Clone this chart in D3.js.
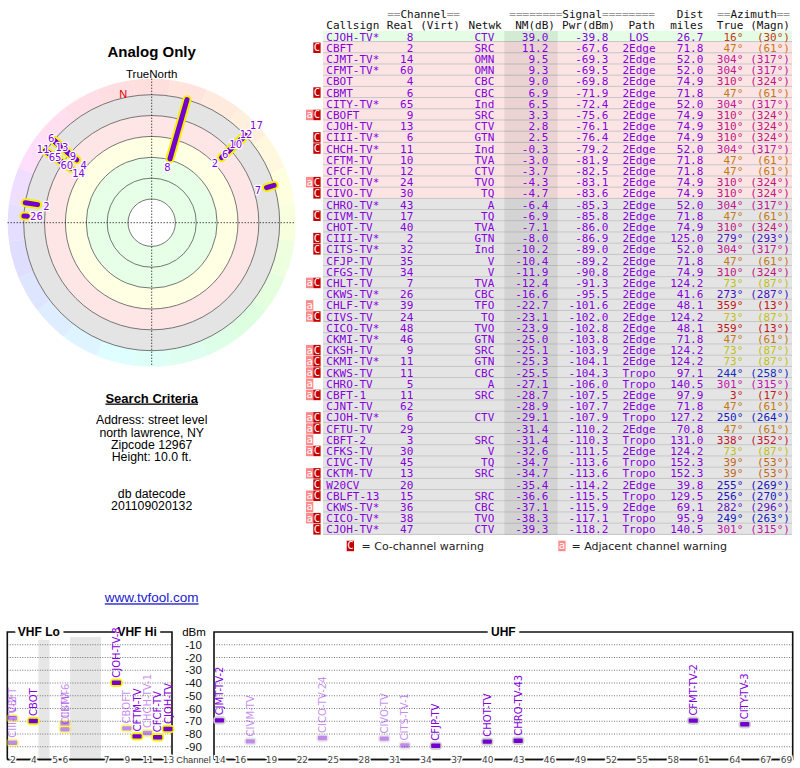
<!DOCTYPE html>
<html>
<head>
<meta charset="utf-8">
<script src="https://cdn.jsdelivr.net/npm/d3@7"></script>
<style>
body{margin:0;background:#fff}
svg{display:block}
</style>
</head>
<body>
<svg id="chart" width="800" height="768"></svg>
<script>
'use strict';

// ---- station table
var callsigns = ['CJOH-TV*','CBFT','CJMT-TV*','CFMT-TV*','CBOT','CBMT','CITY-TV*','CBOFT','CJOH-TV','CIII-TV*',
	'CHCH-TV*','CFTM-TV','CFCF-TV','CICO-TV*','CIVO-TV','CHRO-TV*','CIVM-TV','CHOT-TV','CIII-TV*','CITS-TV*',
	'CFJP-TV','CFGS-TV','CHLT-TV','CKWS-TV*','CHLF-TV*','CIVS-TV','CICO-TV*','CKMI-TV*','CKSH-TV','CKMI-TV*',
	'CKWS-TV','CHRO-TV','CBFT-1','CJNT-TV','CJOH-TV*','CFTU-TV','CBFT-2','CFKS-TV','CIVC-TV','CKTM-TV',
	'W20CV','CBLFT-13','CKWS-TV*','CICO-TV*','CJOH-TV*'];
var realCh = [8,2,14,60,4,6,65,9,13,6, 11,10,12,24,30,43,17,40,2,32, 35,34,7,26,39,24,48,46,9,11,
	11,5,11,62,6,29,3,30,45,13, 20,15,36,38,47];
var networks = ['CTV','SRC','OMN','OMN','CBC','CBC','Ind','SRC','CTV','GTN', 'Ind','TVA','CTV','TVO','TQ','A','TQ','TVA','GTN','Ind',
	'V','V','TVA','CBC','TFO','TQ','TVO','GTN','SRC','GTN', 'CBC','A','SRC','','CTV','','SRC','V','TQ','SRC',
	'','SRC','CBC','TVO','CTV'];
var nmDb = [39.0,11.2,9.5,9.3,9.0,6.9,6.5,3.3,2.8,2.5, -0.3,-3.0,-3.7,-4.3,-4.7,-6.4,-6.9,-7.1,-8.0,-10.2,
	-10.4,-11.9,-12.4,-16.6,-22.7,-23.1,-23.9,-25.0,-25.1,-25.3, -25.5,-27.1,-28.7,-28.9,-29.1,-31.4,-31.4,-32.6,-34.7,-34.7,
	-35.4,-36.6,-37.1,-38.3,-39.3];
var pwrDbm = [-39.8,-67.6,-69.3,-69.5,-69.8,-71.9,-72.4,-75.6,-76.1,-76.4, -79.2,-81.9,-82.5,-83.1,-83.6,-85.3,-85.8,-86.0,-86.9,-89.0,
	-89.2,-90.8,-91.3,-95.5,-101.6,-102.0,-102.8,-103.8,-103.9,-104.1, -104.3,-106.0,-107.5,-107.7,-107.9,-110.2,-110.3,-111.5,-113.6,-113.6,
	-114.2,-115.5,-115.9,-117.1,-118.2];
var paths = ['LOS','2Edge','2Edge','2Edge','2Edge','2Edge','2Edge','2Edge','2Edge','2Edge',
	'2Edge','2Edge','2Edge','2Edge','2Edge','2Edge','2Edge','2Edge','2Edge','2Edge',
	'2Edge','2Edge','2Edge','2Edge','2Edge','2Edge','2Edge','2Edge','2Edge','2Edge',
	'Tropo','Tropo','2Edge','2Edge','Tropo','2Edge','Tropo','2Edge','Tropo','Tropo',
	'2Edge','Tropo','2Edge','Tropo','Tropo'];
var distMiles = [26.7,71.8,52.0,52.0,74.9,71.8,52.0,74.9,74.9,74.9, 52.0,71.8,71.8,74.9,74.9,52.0,71.8,74.9,125.0,52.0,
	71.8,74.9,124.2,41.6,48.1,124.2,48.1,71.8,124.2,124.2, 97.1,140.5,97.9,71.8,127.2,70.8,131.0,124.2,152.3,152.3,
	39.8,129.5,69.1,95.9,140.5];
var azTrue = [16,47,304,304,310,47,304,310,310,310, 304,47,47,310,310,304,47,310,279,304,
	47,310,73,273,359,73,359,47,73,73, 244,301,3,47,250,47,338,73,39,39, 255,256,282,249,301];
var azMagn = [30,61,317,317,324,61,317,324,324,324, 317,61,61,324,324,317,61,324,293,317,
	61,324,87,287,13,87,13,61,87,87, 258,315,17,61,264,61,352,87,53,53, 269,270,296,263,315];
var warnings = ['','C','','','','C','','aC','','C', 'C','','','aC','C','','C','','C','C',
	'','','aC','','a','aC','','','aC','aC', 'aC','a','aC','','aC','aC','a','aC','','aC',
	'C','aC','a','aC','C'];

// names shown on the spectrum chart, first 21 stations
var specNames = ['CJOH-TV-8','CBFT','CJMT-TV-2','CFMT-TV-2','CBOT','CBMT','CITY-TV-3','CBOFT','CJOH-TV','CIII-TV-6',
	'CHCH-TV-1','CFTM-TV','CFCF-TV','CICO-TV-24','CIVO-TV','CHRO-TV-43','CIVM-TV','CHOT-TV','CIII-TV-2','CITS-TV-1','CFJP-TV'];

var vhfTicks = [2,4,5,6,7,9,11,13];
var uhfTicks = [14,16,19,22,25,28,31,34,37,40,43,46,49,52,55,58,61,64,67,69];
var dbmTicks = [-10,-20,-30,-40,-50,-60,-70,-80,-90];
var nmRings = [80,60,40,20,0,-20];

var searchLines = ['Address: street level','north lawrence, NY','Zipcode 12967','Height: 10.0 ft.'];
var dateLines = ['db datecode','201109020132'];

var svg = d3.select('#chart');
var mono = "'DejaVu Sans Mono', monospace";
var sans = "'Liberation Sans', Arial, sans-serif";
var purple = '#8400dc';
var n = callsigns.length;

var hueScale = d3.scaleLinear()
	.domain([0,47,73,250,280,305,338,360])
	.range([0,35,60,238,260,318,350,360]);
function azColor(a){ return d3.hsl(hueScale(a), 0.8, 0.42) + ''; }

// ================= table =================
var tX0 = 323, tX1 = 792;
var rowScale = d3.scaleBand().domain(d3.range(n)).range([30.9, 30.9 + n*11.2]);
var rh = rowScale.bandwidth();
function rowFill(v){ return v >= 20 ? '#e4fde4' : (v >= -5 ? '#fde4e4' : '#e4e4e4'); }

var tbl = svg.append('g');
tbl.selectAll('rect.row').data(d3.range(n)).enter().append('rect')
	.attr('x', tX0).attr('width', tX1 - tX0)
	.attr('y', function(i){ return rowScale(i); })
	.attr('height', rh)
	.attr('fill', function(i){ return rowFill(nmDb[i]); });
tbl.selectAll('line.sep').data(d3.range(n)).enter().append('line')
	.attr('x1', tX0).attr('x2', tX1)
	.attr('y1', function(i){ return rowScale(i) + rh - 0.5; })
	.attr('y2', function(i){ return rowScale(i) + rh - 0.5; })
	.attr('stroke', '#c4c4c4').attr('stroke-width', 1);
tbl.append('rect')
	.attr('x', 504.3).attr('width', 53.4)
	.attr('y', rowScale(0)).attr('height', n*rh)
	.attr('fill', 'rgba(0,0,0,0.07)');

// header
function header(y, parts){
	parts.forEach(function(p){
		var t = tbl.append('text').attr('y', y).attr('x', p.x)
			.attr('text-anchor', p.anchor || 'end')
			.style('font-family', mono).style('font-size', '11px');
		p.s.forEach(function(s){
			t.append('tspan').text(s[0]).attr('fill', s[1] ? '#9a9a9a' : '#111');
		});
	});
}
header(18, [
	{x:460, s:[['==',1],['Channel'],['==',1]]},
	{x:655, s:[['========',1],['Signal'],['========',1]]},
	{x:703.3, s:[['Dist']]},
	{x:790, s:[['==',1],['Azimuth'],['==',1]]}
]);
header(29, [
	{x:326.3, anchor:'start', s:[['Callsign']]},
	{x:413.3, s:[['Real']]},
	{x:460, s:[['(Virt)']]},
	{x:501.7, s:[['Netwk']]},
	{x:555, s:[['NM(dB)']]},
	{x:615, s:[['Pwr(dBm)']]},
	{x:655, s:[['Path']]},
	{x:703.3, s:[['miles']]},
	{x:743.3, s:[['True']]},
	{x:790, s:[['(Magn)']]}
]);

var columns = [
	{x:326.3, anchor:'start', v:function(i){ return callsigns[i]; }},
	{x:413.3, anchor:'end', v:function(i){ return realCh[i]; }},
	{x:494.3, anchor:'end', v:function(i){ return networks[i]; }},
	{x:548.3, anchor:'end', v:function(i){ return nmDb[i].toFixed(1); }},
	{x:608.3, anchor:'end', v:function(i){ return pwrDbm[i].toFixed(1); }},
	{x:639, anchor:'middle', v:function(i){ return paths[i]; }},
	{x:703.3, anchor:'end', v:function(i){ return distMiles[i].toFixed(1); }},
	{x:743.3, anchor:'end', v:function(i){ return azTrue[i] + '\u00b0'; }, c:function(i){ return azColor(azTrue[i]); }},
	{x:790, anchor:'end', v:function(i){ return '(' + azMagn[i] + '\u00b0)'; }, c:function(i){ return azColor(azTrue[i]); }}
];
columns.forEach(function(col){
	tbl.selectAll(null).data(d3.range(n)).enter().append('text')
		.attr('x', col.x)
		.attr('y', function(i){ return rowScale(i) + rh/2 + 4; })
		.attr('text-anchor', col.anchor)
		.attr('fill', col.c || purple)
		.style('font-family', mono).style('font-size', '11px')
		.text(col.v);
});

// warning badges
function badge(g, x, y, kind){
	g.append('rect').attr('x', x).attr('y', y).attr('width', 7.3).attr('height', 10.5)
		.attr('fill', kind == 'C' ? '#c40000' : '#ff8a8a');
	g.append('text').attr('x', x + 3.65).attr('y', y + 8.6).attr('text-anchor', 'middle')
		.attr('fill', '#fff').style('font-family', mono).style('font-size', '10.5px').text(kind == 'C' ? 'C' : 'a');
}
d3.range(n).forEach(function(i){
	var w = warnings[i], y = rowScale(i) + 0.4;
	if (w.indexOf('a') >= 0) badge(tbl, 306, y, 'a');
	if (w.indexOf('C') >= 0) badge(tbl, 313.3, y, 'C');
});
badge(tbl, 346.7, 540.7, 'C');
badge(tbl, 558.3, 540.7, 'a');
tbl.append('text').attr('x', 361.5).attr('y', 550).attr('fill', '#222')
	.style('font-family', "'DejaVu Sans', sans-serif").style('font-size', '11px').text('= Co-channel warning');
tbl.append('text').attr('x', 571.5).attr('y', 550).attr('fill', '#222')
	.style('font-family', "'DejaVu Sans', sans-serif").style('font-size', '11px').text('= Adjacent channel warning');

// ================= polar plot =================
var cx = 151.7, cy = 222.7;
var rNM = d3.scaleLinear().domain([80, -20]).range([23.7, 128]);
var rOut = 144;
var rad = Math.PI/180;
function pt(a, r){ return [r*Math.sin(a*rad), -r*Math.cos(a*rad)]; }

svg.append('text').attr('x', cx).attr('y', 56.5).attr('text-anchor', 'middle')
	.style('font-family', sans).style('font-size', '15px').style('font-weight', 'bold').text('Analog Only');
svg.append('text').attr('x', cx).attr('y', 78.3).attr('text-anchor', 'middle')
	.style('font-family', sans).style('font-size', '11.5px').text('TrueNorth');

var pg = svg.append('g').attr('transform', 'translate(' + cx + ',' + cy + ')');
var arc = d3.arc();
d3.range(24).forEach(function(k){
	var a = k*15;
	pg.append('path')
		.attr('d', arc({innerRadius: rNM(-20), outerRadius: rOut, startAngle: (a-7.5)*rad, endAngle: (a+7.5)*rad}))
		.attr('fill', d3.hsl(hueScale(a), 1, 0.935) + '');
});
var bands = [[-20,0,'#e4e4e4'],[0,20,'#ffe6e6'],[20,40,'#ffffe4'],[40,80,'#e6ffe6']];
bands.forEach(function(b){
	pg.append('path')
		.attr('d', arc({innerRadius: rNM(b[1]), outerRadius: rNM(b[0]), startAngle: 0, endAngle: 2*Math.PI}))
		.attr('fill', b[2]);
});
pg.selectAll('circle.ring').data(nmRings).enter().append('circle')
	.attr('r', function(d){ return rNM(d); })
	.attr('fill', 'none').attr('stroke', '#555').attr('stroke-width', 0.8);
pg.append('line').attr('x1', -rOut).attr('x2', rOut).attr('y1', 0).attr('y2', 0)
	.attr('stroke', '#000').attr('stroke-dasharray', '1,2');
pg.append('line').attr('y1', -rOut).attr('y2', rOut).attr('x1', 0).attr('x2', 0)
	.attr('stroke', '#000').attr('stroke-dasharray', '1,2');

var decl = azMagn[0] - azTrue[0];
var np = pt(-decl + 1.5, 132);
pg.append('text').attr('x', np[0]).attr('y', np[1]).attr('dy', '0.35em').attr('text-anchor', 'middle')
	.attr('fill', '#e00000').style('font-family', sans).style('font-size', '11px').text('N');

var polarIdx = d3.range(n).filter(function(i){ return nmDb[i] > -20; });
var segs = polarIdx.slice().reverse();
pg.selectAll('line.halo').data(segs).enter().append('line')
	.attr('x1', function(i){ return pt(azTrue[i], rNM(nmDb[i]))[0]; })
	.attr('y1', function(i){ return pt(azTrue[i], rNM(nmDb[i]))[1]; })
	.attr('x2', function(i){ return pt(azTrue[i], rNM(-20))[0]; })
	.attr('y2', function(i){ return pt(azTrue[i], rNM(-20))[1]; })
	.attr('stroke', '#f2f200').attr('stroke-width', 9).attr('stroke-linecap', 'round');
pg.selectAll('line.core').data(segs).enter().append('line')
	.attr('x1', function(i){ return pt(azTrue[i], rNM(nmDb[i]))[0]; })
	.attr('y1', function(i){ return pt(azTrue[i], rNM(nmDb[i]))[1]; })
	.attr('x2', function(i){ return pt(azTrue[i], rNM(-20))[0]; })
	.attr('y2', function(i){ return pt(azTrue[i], rNM(-20))[1]; })
	.attr('stroke', '#7400d0').attr('stroke-width', 5).attr('stroke-linecap', 'round');

// labels pushed outward when they would sit on a previous one
var lastR = {}, plabels = [];
polarIdx.forEach(function(i){
	var base = rNM(nmDb[i]) - 9;
	var prev = lastR[azTrue[i]];
	var r = prev == null ? base : Math.max(base, prev + 14.2);
	lastR[azTrue[i]] = r;
	if (r <= 144.5) plabels.push({i: i, r: r});
});
pg.selectAll('text.lab').data(plabels).enter().append('text')
	.attr('x', function(d){ return pt(azTrue[d.i], d.r)[0]; })
	.attr('y', function(d){ return pt(azTrue[d.i], d.r)[1]; })
	.attr('dy', '0.35em').attr('text-anchor', 'middle')
	.attr('fill', purple).attr('stroke', '#fff').attr('stroke-width', 2.5)
	.attr('paint-order', 'stroke').attr('stroke-linejoin', 'round')
	.style('font-family', "'DejaVu Sans', sans-serif").style('font-size', '10px')
	.text(function(d){ return realCh[d.i]; });

// ================= search criteria =================
svg.append('text').attr('x', cx).attr('y', 402.5).attr('text-anchor', 'middle')
	.style('font-family', sans).style('font-size', '13px').style('font-weight', 'bold')
	.style('text-decoration', 'underline').text('Search Criteria');
svg.selectAll('text.crit').data(searchLines).enter().append('text')
	.attr('x', cx).attr('y', function(d, k){ return 424.3 + k*12.3; }).attr('text-anchor', 'middle')
	.style('font-family', sans).style('font-size', '12.3px').text(function(d){ return d; });
svg.selectAll('text.date').data(dateLines).enter().append('text')
	.attr('x', cx).attr('y', function(d, k){ return 498 + k*12.3; }).attr('text-anchor', 'middle')
	.style('font-family', sans).style('font-size', '12.3px').text(function(d){ return d; });
svg.append('text').attr('x', cx).attr('y', 602.3).attr('text-anchor', 'middle')
	.attr('fill', '#2020cc').style('font-family', sans).style('font-size', '13.5px')
	.style('text-decoration', 'underline').text('www.tvfool.com');

// ================= spectrum =================
var chW = 10.3;
var xLo1 = d3.scaleLinear().domain([1.5, 4.5]).range([7.5, 7.5 + 3*chW]);
var xLo2 = d3.scaleLinear().domain([4.5, 6.5]).range([49.5, 49.5 + 2*chW]);
var xHi = d3.scaleLinear().domain([6.5, 13.5]).range([101, 101 + 7*chW]);
var xU = d3.scaleLinear().domain([13.5, 69.5]).range([214.3, 214.3 + 56*chW]);
function chX(c){ return c <= 4 ? xLo1(c) : c <= 6 ? xLo2(c) : c <= 13 ? xHi(c) : xU(c); }
var y = d3.scaleLinear().domain([0, -100]).range([632, 759.5]);
var vL = 7.3, vR = 172, uL = 214, uR = 792.7;

var sp = svg.append('g');
sp.append('rect').attr('x', xLo1(4.5)).attr('width', xLo2(4.5) - xLo1(4.5))
	.attr('y', y(-4)).attr('height', y(-100) - y(-4)).attr('fill', '#e6e6e6');
sp.append('rect').attr('x', xLo2(6.5)).attr('width', xHi(6.5) - xLo2(6.5))
	.attr('y', y(-4)).attr('height', y(-100) - y(-4)).attr('fill', '#e6e6e6');

[[vL, vR], [uL, uR]].forEach(function(b){
	sp.selectAll(null).data(dbmTicks).enter().append('line')
		.attr('x1', b[0]).attr('x2', b[1])
		.attr('y1', function(d){ return y(d); }).attr('y2', function(d){ return y(d); })
		.attr('stroke', '#555').attr('stroke-width', 0.8).attr('stroke-dasharray', '1,1.5');
	sp.append('path')
		.attr('d', 'M' + b[0] + ',' + y(-100) + 'V' + y(0) + 'H' + b[1] + 'V' + y(-100) + 'H' + b[0])
		.attr('fill', 'none').attr('stroke', '#111').attr('stroke-width', 1.6);
});

var titles = [['VHF Lo', xLo1(1.5) + (xLo2(6.5) - xLo1(1.5))/2], ['VHF Hi', xHi(10)], ['UHF', (uL + uR)/2]];
sp.selectAll('text.ttl').data(titles).enter().append('text')
	.attr('x', function(d){ return d[1]; }).attr('y', y(0)).attr('dy', '0.36em')
	.attr('text-anchor', 'middle')
	.attr('stroke', '#fff').attr('stroke-width', 8).attr('paint-order', 'stroke')
	.style('font-family', sans).style('font-size', '12px').style('font-weight', 'bold')
	.text(function(d){ return d[0]; });

// y axis labels
var yAx = sp.append('g').attr('transform', 'translate(201.8,0)')
	.call(d3.axisLeft(y).tickValues(dbmTicks).tickSize(0).tickPadding(0).tickFormat(function(d){ return d; }));
yAx.select('.domain').remove();
yAx.selectAll('text').style('font-family', sans).style('font-size', '11.5px').attr('fill', '#111');
sp.append('text').attr('x', 194).attr('y', y(0)).attr('dy', '0.36em').attr('text-anchor', 'middle')
	.style('font-family', sans).style('font-size', '11.5px').text('dBm');

// bars and names
var specIdx = d3.range(specNames.length);
function faded(i){ return warnings[i].indexOf('C') >= 0; }
var mk = sp.selectAll('g.st').data(specIdx).enter().append('g')
	.attr('transform', function(i){ return 'translate(' + chX(realCh[i]) + ',' + y(pwrDbm[i]) + ')'; })
	.attr('opacity', function(i){ return faded(i) ? 0.45 : 1; });
mk.append('rect').attr('x', -6.3).attr('y', -4.2).attr('width', 12.6).attr('height', 8.4).attr('rx', 4)
	.attr('fill', function(i){ return realCh[i] <= 13 ? '#f4f400' : '#cfcfcf'; });
mk.append('rect').attr('x', -4.6).attr('y', -2.2).attr('width', 9.2).attr('height', 4.4).attr('rx', 1)
	.attr('fill', '#7400d0');
mk.append('text').attr('transform', 'translate(0,-5) rotate(-90)')
	.attr('dy', '0.36em').attr('fill', purple)
	.style('font-family', "'DejaVu Sans', sans-serif").style('font-size', '10px')
	.text(function(i){ return specNames[i]; });

// channel axes
function chAxis(scaleFn, ticks, x0, x1){
	var g = sp.append('g').attr('transform', 'translate(0,' + y(-100) + ')');
	g.append('line').attr('x1', x0).attr('x2', x1).attr('stroke', '#111').attr('stroke-width', 1.6);
	var ax = d3.axisBottom(d3.scaleLinear().domain([0, 800]).range([0, 800]))
		.tickValues(ticks.map(scaleFn)).tickSize(0)
		.tickFormat(function(d, k){ return ticks[k]; });
	g.call(ax);
	g.select('.domain').remove();
	g.selectAll('text').attr('y', 0).attr('dy', '0.35em')
		.attr('fill', '#444').attr('stroke', '#fff').attr('stroke-width', 3).attr('paint-order', 'stroke')
		.style('font-family', "'DejaVu Sans', sans-serif").style('font-size', '9px');
}
chAxis(chX, vhfTicks, vL, vR);
chAxis(chX, uhfTicks, uL, uR);
sp.append('text').attr('x', 193.5).attr('y', y(-100)).attr('dy', '0.36em').attr('text-anchor', 'middle')
	.attr('fill', '#333').style('font-family', sans).style('font-size', '9.3px').text('Channel');
</script>
</body>
</html>
